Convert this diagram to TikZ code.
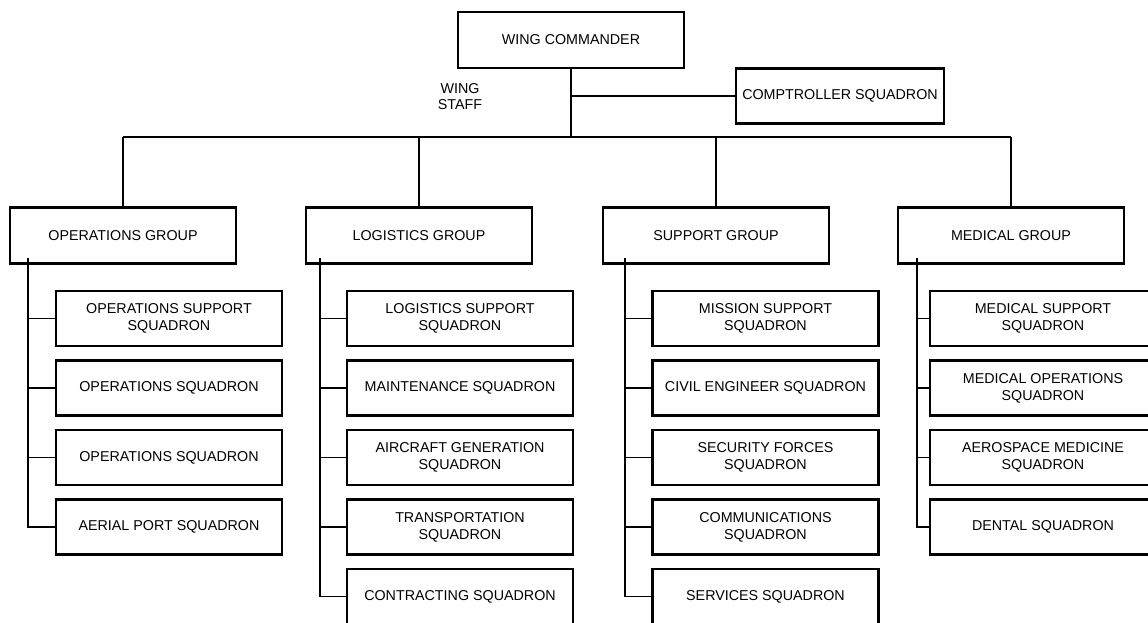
\documentclass[tikz,border=0pt]{standalone}
\usepackage{fontspec}
\setmainfont{Liberation Sans}
\begin{document}
\begin{tikzpicture}[x=1pt,y=-1pt,
  box/.style={draw, line width=2.4pt, minimum width=226pt, minimum height=55pt, inner sep=0pt, align=center, font=\fontsize{14.3}{16.7}\selectfont},
  grp/.style={box, minimum height=56pt},
  conn/.style={line width=1.6pt},
  lbl/.style={align=center, inner sep=0pt, font=\fontsize{14.3}{16.7}\selectfont}]
\useasboundingbox (0,0) rectangle (1148,622);
\clip (0,0) rectangle (1148,622);
% top
\node[grp] (cmd) at (571,40) {WING COMMANDER};
\node[box, minimum width=208pt] (comp) at (840,96) {COMPTROLLER SQUADRON};
\node[lbl] (staff) at (460,96.5) {WING\\STAFF};
\coordinate (busL) at (122,137);
% groups
\node[grp] (g1) at (123,235.5) {OPERATIONS GROUP};
\node[grp] (g2) at (419,235.5) {LOGISTICS GROUP};
\node[grp] (g3) at (716,235.5) {SUPPORT GROUP};
\node[grp] (g4) at (1011,235.5) {MEDICAL GROUP};
\draw[conn] (cmd.south) -- (cmd.south |- busL);
\draw[conn] (cmd.south |- comp.west) -- (comp.west);
\draw[conn] (g1.north |- busL) -- (g4.north |- busL);
\foreach \g in {g1,g2,g3,g4} \draw[conn] (\g.north) -- (\g.north |- busL);
% operations squadrons
\node[box] (o1) at (169,318.5) {OPERATIONS SUPPORT\\SQUADRON};
\node[box] (o2) at (169,388) {OPERATIONS SQUADRON};
\node[box] (o3) at (169,457.5) {OPERATIONS SQUADRON};
\node[box] (o4) at (169,527) {AERIAL PORT SQUADRON};
% logistics squadrons
\node[box] (l1) at (460,318.5) {LOGISTICS SUPPORT\\SQUADRON};
\node[box] (l2) at (460,388) {MAINTENANCE SQUADRON};
\node[box] (l3) at (460,457.5) {AIRCRAFT GENERATION\\SQUADRON};
\node[box] (l4) at (460,527) {TRANSPORTATION\\SQUADRON};
\node[box] (l5) at (460,596.5) {CONTRACTING SQUADRON};
% support squadrons
\node[box] (s1) at (765.5,318.5) {MISSION SUPPORT\\SQUADRON};
\node[box] (s2) at (765.5,388) {CIVIL ENGINEER SQUADRON};
\node[box] (s3) at (765.5,457.5) {SECURITY FORCES\\SQUADRON};
\node[box] (s4) at (765.5,527) {COMMUNICATIONS\\SQUADRON};
\node[box] (s5) at (765.5,596.5) {SERVICES SQUADRON};
% medical squadrons
\node[box] (m1) at (1043,318.5) {MEDICAL SUPPORT\\SQUADRON};
\node[box] (m2) at (1043,388) {MEDICAL OPERATIONS\\SQUADRON};
\node[box] (m3) at (1043,457.5) {AEROSPACE MEDICINE\\SQUADRON};
\node[box] (m4) at (1043,527) {DENTAL SQUADRON};
% spines
\coordinate (sp1) at (28,258);
\coordinate (sp2) at (320,258);
\coordinate (sp3) at (625,258);
\coordinate (sp4) at (917,258);
\draw[conn] (sp1) |- (o4.west);
\foreach \n in {o1,o2,o3} \draw[conn] (sp1 |- \n.west) -- (\n.west);
\draw[conn] (sp2) |- (l5.west);
\foreach \n in {l1,l2,l3,l4} \draw[conn] (sp2 |- \n.west) -- (\n.west);
\draw[conn] (sp3) |- (s5.west);
\foreach \n in {s1,s2,s3,s4} \draw[conn] (sp3 |- \n.west) -- (\n.west);
\draw[conn] (sp4) |- (m4.west);
\foreach \n in {m1,m2,m3} \draw[conn] (sp4 |- \n.west) -- (\n.west);
\end{tikzpicture}
\end{document}
